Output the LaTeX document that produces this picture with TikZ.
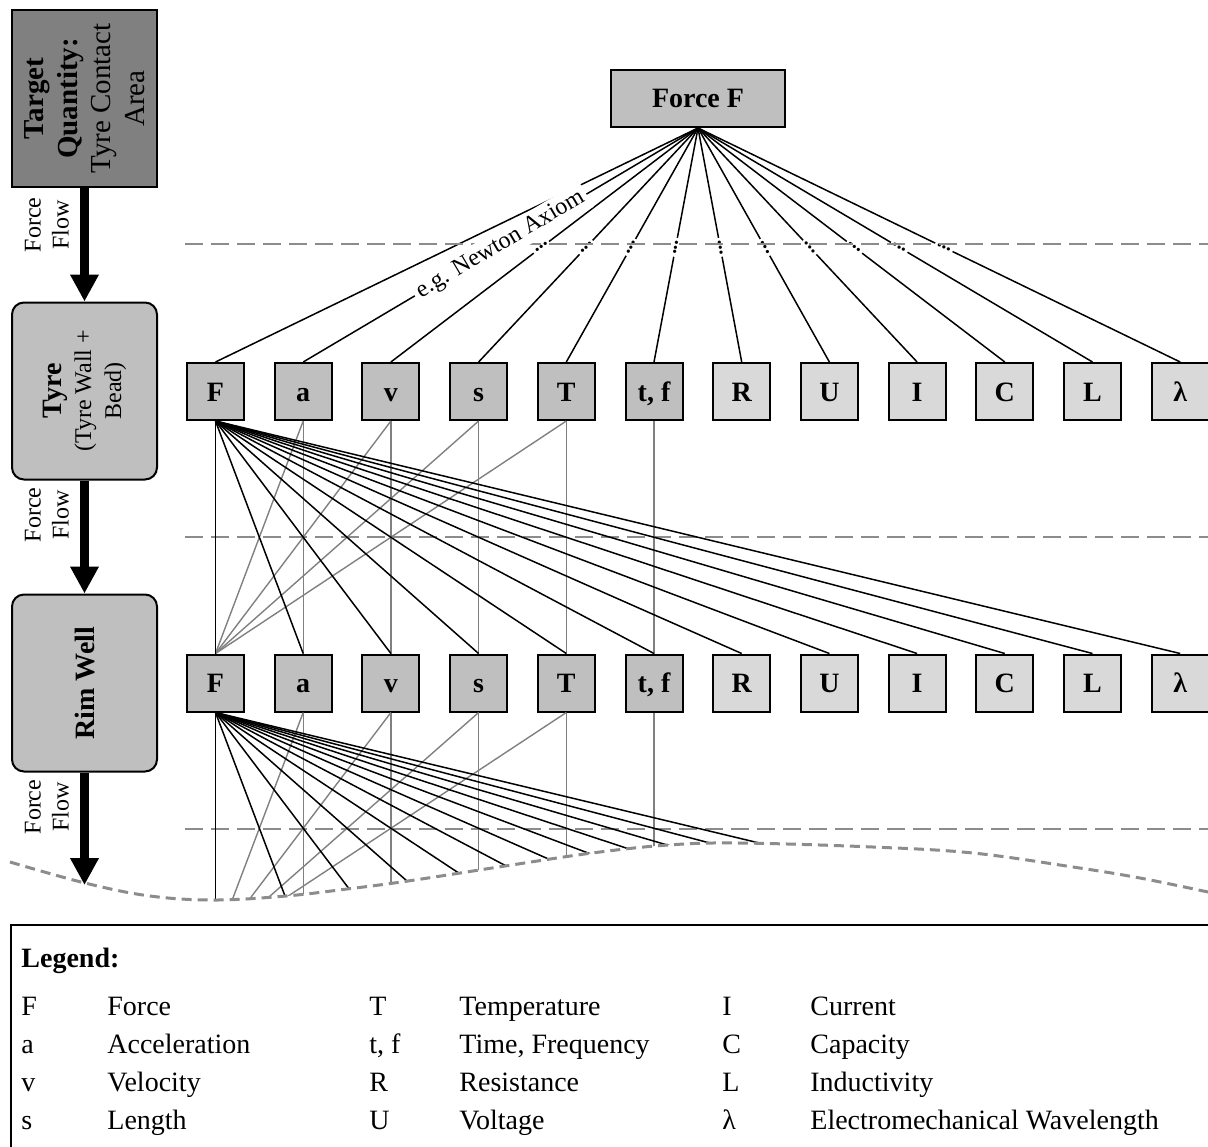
\documentclass[tikz,border=0pt]{standalone}
\usepackage{fontspec}
\setmainfont{Liberation Serif}
\usetikzlibrary{arrows.meta}
\definecolor{darkbox}{RGB}{128,128,128}
\definecolor{midbox}{RGB}{191,191,191}
\definecolor{lightbox}{RGB}{217,217,217}
\definecolor{lgray}{RGB}{128,128,128}
\definecolor{dgray}{RGB}{140,140,140}
\begin{document}
\begin{tikzpicture}[x=0.5pt,y=-0.5pt,
  sq/.style={draw=black, line width=1pt, minimum size=28.5pt, inner sep=0pt, text height=9.5pt, text depth=0pt, font=\fontsize{14}{16.8}\selectfont\bfseries},
  sqd/.style={sq, fill=midbox},
  sql/.style={sq, fill=lightbox},
  lbox/.style={draw=black, line width=1pt, minimum width=72.5pt, minimum height=88.5pt, inner sep=0pt},
  rot/.style={rotate=90, align=center, inner sep=0pt},
  bigarrow/.style={line width=4.5pt, -{Triangle[width=13.5pt,length=13.5pt]}},
  conn/.style={line width=0.75pt, black},
  gconn/.style={line width=0.7pt, lgray},
  sepline/.style={dgray, line width=1pt, dash pattern=on 9pt off 4pt},
  wave/.style={dgray, line width=1.5pt, dash pattern=on 5pt off 3pt},
  dotlab/.style={sloped, fill=white, inner sep=1pt, font=\fontsize{10}{11}\selectfont\bfseries, pos=0.51},
  legtxt/.style={anchor=base west, inner sep=0pt, font=\fontsize{14}{16.8}\selectfont},
  flowtxt/.style={rot, font=\fontsize{12}{14}\selectfont},
]
\useasboundingbox (0,0) rectangle (1208,1146);

% left column boxes
\node[lbox, fill=darkbox] (tgt) at (84.5,98.5) {};
\node[rot, font=\fontsize{14.5}{16.8}\selectfont] (tgttxt) at (tgt) {\textbf{Target}\\\textbf{Quantity:}\\Tyre Contact\\Area};
\node[lbox, fill=midbox, rounded corners=6pt] (tyre) at (84.5,391) {};
\node[rot, font=\fontsize{12}{15}\selectfont] (tyretxt) at (tyre) {{\fontsize{14}{15}\selectfont\bfseries Tyre}\\(Tyre Wall +\\Bead)};
\node[lbox, fill=midbox, rounded corners=6pt] (rim) at (84.5,683) {};
\node[rot, font=\fontsize{14}{16.8}\selectfont\bfseries] (rimtxt) at (rim) {Rim Well};
\coordinate (flowend) at (84.5,885);

\draw[bigarrow] (tgt.south) -- (tyre.north);
\draw[bigarrow] (tyre.south) -- (rim.north);
\draw[bigarrow] (rim.south) -- (flowend);
\node[flowtxt] (ff1) at (47,225) {Force\\Flow};
\node[flowtxt] (ff2) at (47,515) {Force\\Flow};
\node[flowtxt] (ff3) at (47,807) {Force\\Flow};

% separator lines (lower two)
\draw[sepline] (185,537) -- (1215,537);
\draw[sepline] (185,829) -- (1215,829);

% top node
\node[draw=black, line width=1pt, fill=midbox, minimum width=87pt, minimum height=28.5pt, inner sep=0pt,
      font=\fontsize{14}{16.8}\selectfont\bfseries] (FF) at (698,98.5) {Force F};

% rows of quantities
\foreach \n/\t/\s [count=\i from 0] in {F/F/sqd, a/a/sqd, v/v/sqd, s/s/sqd, T/T/sqd, tf/{t, f}/sqd,
    R/R/sql, U/U/sql, I/I/sql, C/C/sql, L/L/sql, la/λ/sql} {
  \node[\s] (\n1) at ({215.5+87.7*\i},391.5) {\t};
  \node[\s] (\n2) at ({215.5+87.7*\i},683) {\t};
  \coordinate (\n3) at ({215.5+87.7*\i},944);
}

% row 1 -> row 2
\foreach \n in {a,v,s,T} {
  \draw[gconn] (\n1.south) -- (F2.north);
  \draw[gconn] (\n1.south) -- (\n2.north);
}
\draw[gconn] (tf1.south) -- (tf2.north);
\foreach \n in {F,a,v,s,T,tf,R,U,I,C,L,la} {
  \draw[conn] (F1.south) -- (\n2.north);
}

% row 2 -> (hidden) row 3, clipped at the wave
\begin{scope}
  \clip (0,700) -- (0,862) -- plot[smooth, tension=0.6] coordinates {(10,862) (85,883) (150,896) (215,900) (286,896) (347,889) (408,881) (505,866) (592,853) (668,845) (740,843) (873,847) (973,853) (1073,867) (1140,878) (1208,892)} -- (1220,892) -- (1220,700) -- cycle;
  \foreach \n in {a,v,s,T} {
    \draw[gconn] (\n2.south) -- (F3);
    \draw[gconn] (\n2.south) -- (\n3);
  }
  \draw[gconn] (tf2.south) -- (tf3);
  \foreach \n in {F,a,v,s,T,tf,R,U,I,C,L,la} {
    \draw[conn] (F2.south) -- (\n3);
  }
\end{scope}
\draw[wave] plot[smooth, tension=0.6] coordinates {(10,862) (85,883) (150,896) (215,900) (286,896) (347,889) (408,881) (505,866) (592,853) (668,845) (740,843) (873,847) (973,853) (1073,867) (1140,878) (1208,892)};

% Force F -> row 1
\draw[conn] (FF.south) -- (F1.north);
\foreach \n in {v,s,T,tf,R,U,I,C,L,la} {
  \draw[conn] (FF.south) -- node[dotlab] {...} (\n1.north);
}
\draw[sepline] (185,244) -- (1215,244);
\draw[conn] (FF.south) -- node[sloped, fill=white, inner sep=2pt, pos=0.5, font=\fontsize{12}{14}\selectfont] (newton) {e.g. Newton Axiom} (a1.north);

% legend
\draw[line width=0.8pt] (1230,925) -- (11,925) -- (11,1160);
\node[legtxt, font=\fontsize{14}{16.8}\selectfont\bfseries] (leghead) at (21,967) {Legend:};
\foreach \a/\b/\c/\d/\e/\f/\y [count=\k] in {
    F/Force/T/Temperature/I/Current/1015,
    a/Acceleration/{t, f}/{Time, Frequency}/C/Capacity/1053,
    v/Velocity/R/Resistance/L/Inductivity/1091,
    s/Length/U/Voltage/λ/Electromechanical Wavelength/1129} {
  \node[legtxt] (lga\k) at (21,\y) {\a};
  \node[legtxt] (lgb\k) at (107,\y) {\b};
  \node[legtxt] (lgc\k) at (369,\y) {\c};
  \node[legtxt] (lgd\k) at (459,\y) {\d};
  \node[legtxt] (lge\k) at (722,\y) {\e};
  \node[legtxt] (lgf\k) at (810,\y) {\f};
}
\end{tikzpicture}
\end{document}
